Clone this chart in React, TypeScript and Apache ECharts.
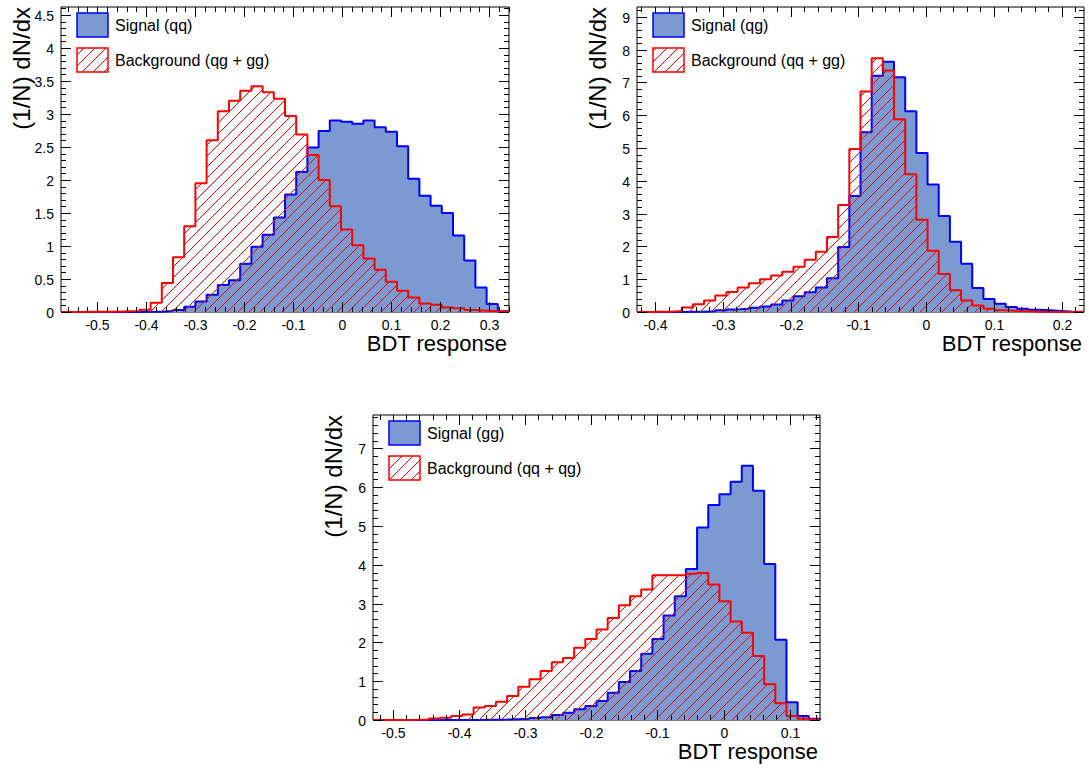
import React, { useEffect, useRef } from "react";
import * as echarts from "echarts";

// ---------------- data ----------------
// Panel 1: Signal (qq) vs Background (qg + gg)
const qqRange = [-0.574, 0.3404];
const qqYMax = 4.62;
const qqSignal = [0, 0, 0, 0, 0, 0, 0, 0.003, 0.005, 0.015, 0.03, 0.08, 0.16, 0.26, 0.41, 0.48, 0.73, 0.99, 1.17, 1.43, 1.78, 2.12, 2.49, 2.74, 2.9, 2.88, 2.85, 2.9, 2.8, 2.73, 2.51, 2.02, 1.76, 1.61, 1.5, 1.16, 0.78, 0.37, 0.12, 0.01];
const qqBackground = [0, 0, 0.003, 0.003, 0.005, 0.01, 0.015, 0.035, 0.14, 0.44, 0.83, 1.3, 1.95, 2.6, 3.04, 3.2, 3.35, 3.42, 3.33, 3.23, 2.97, 2.69, 2.38, 2.0, 1.6, 1.25, 1.01, 0.81, 0.64, 0.46, 0.32, 0.22, 0.13, 0.11, 0.07, 0.055, 0.03, 0.02, 0.01, 0.005];
const qqXTicks = ["-0.5", "-0.4", "-0.3", "-0.2", "-0.1", "0", "0.1", "0.2", "0.3"];
const qqYTicks = ["0", "0.5", "1", "1.5", "2", "2.5", "3", "3.5", "4", "4.5"];

// Panel 2: Signal (qg) vs Background (qq + gg)
const qgRange = [-0.4265, 0.2328];
const qgYMax = 9.3;
const qgSignal = [0, 0, 0, 0, 0.005, 0.01, 0.02, 0.05, 0.08, 0.1, 0.13, 0.17, 0.23, 0.35, 0.48, 0.6, 0.75, 1.03, 1.98, 3.54, 5.48, 7.2, 7.63, 7.16, 6.12, 4.85, 3.89, 2.93, 2.14, 1.47, 0.73, 0.4, 0.25, 0.15, 0.1, 0.07, 0.05, 0.03, 0.01, 0.01];
const qgBackground = [0, 0.005, 0.01, 0.03, 0.14, 0.24, 0.35, 0.5, 0.61, 0.75, 0.88, 1.0, 1.11, 1.23, 1.38, 1.59, 1.84, 2.29, 3.26, 4.97, 6.72, 7.74, 7.36, 5.88, 4.2, 2.81, 1.87, 1.16, 0.66, 0.35, 0.2, 0.1, 0.05, 0.03, 0.02, 0.01, 0.005, 0.003, 0, 0];
const qgXTicks = ["-0.4", "-0.3", "-0.2", "-0.1", "0", "0.1", "0.2"];
const qgYTicks = ["0", "1", "2", "3", "4", "5", "6", "7", "8", "9"];

// Panel 3: Signal (gg) vs Background (qq + qg)
const ggRange = [-0.5303, 0.1459];
const ggYMax = 7.86;
const ggSignal = [0, 0, 0, 0, 0, 0, 0, 0, 0.003, 0.005, 0.008, 0.01, 0.02, 0.03, 0.05, 0.07, 0.13, 0.19, 0.28, 0.36, 0.49, 0.7, 0.98, 1.26, 1.71, 2.09, 2.69, 3.19, 3.89, 4.96, 5.54, 5.82, 6.14, 6.55, 5.91, 4.02, 2.07, 0.46, 0.1, 0.03];
const ggBackground = [0, 0, 0.003, 0.005, 0.01, 0.04, 0.06, 0.1, 0.14, 0.32, 0.36, 0.47, 0.62, 0.86, 1.05, 1.26, 1.49, 1.6, 1.86, 2.09, 2.33, 2.63, 2.96, 3.19, 3.36, 3.73, 3.73, 3.73, 3.77, 3.79, 3.49, 3.06, 2.54, 2.25, 1.65, 0.92, 0.43, 0.1, 0.03, 0.01];
const ggXTicks = ["-0.5", "-0.4", "-0.3", "-0.2", "-0.1", "0", "0.1"];
const ggYTicks = ["0", "1", "2", "3", "4", "5", "6", "7"];

const xTitle = "BDT response";
const yTitle = "(1/N) dN/dx";

// ---------------- layout / style ----------------
const FONT = '"Liberation Sans", Arial, Helvetica, sans-serif';
const BLUE_LINE = "#0000ff";
const BLUE_FILL = "#7a9ad1";
const RED_LINE = "#ff0000";

type Panel = {
  grid: { left: number; top: number; width: number; height: number };
  range: number[];
  yMax: number;
  signal: number[];
  background: number[];
  xTicks: string[];
  yTicks: string[];
  xMinor: number;
  yMinor: number;
  signalLabel: string;
  backgroundLabel: string;
};

const panels: Panel[] = [
  {
    grid: { left: 61, top: 7, width: 448, height: 305 },
    range: qqRange, yMax: qqYMax, signal: qqSignal, background: qqBackground,
    xTicks: qqXTicks, yTicks: qqYTicks, xMinor: 0.02, yMinor: 0.1,
    signalLabel: "Signal (qq)", backgroundLabel: "Background (qg + gg)",
  },
  {
    grid: { left: 637, top: 7, width: 447, height: 305 },
    range: qgRange, yMax: qgYMax, signal: qgSignal, background: qgBackground,
    xTicks: qgXTicks, yTicks: qgYTicks, xMinor: 0.02, yMinor: 0.2,
    signalLabel: "Signal (qg)", backgroundLabel: "Background (qq + gg)",
  },
  {
    grid: { left: 373, top: 415, width: 447, height: 305 },
    range: ggRange, yMax: ggYMax, signal: ggSignal, background: ggBackground,
    xTicks: ggXTicks, yTicks: ggYTicks, xMinor: 0.02, yMinor: 0.2,
    signalLabel: "Signal (gg)", backgroundLabel: "Background (qq + qg)",
  },
];

function histOutline(lo: number, hi: number, vals: number[]) {
  const w = (hi - lo) / vals.length;
  const pts: number[][] = [[lo, 0]];
  vals.forEach((v, i) => {
    pts.push([lo + i * w, v]);
    pts.push([lo + (i + 1) * w, v]);
  });
  pts.push([hi, 0]);
  return pts;
}

function isMultiple(v: number, step: number) {
  const r = v / step;
  return Math.abs(r - Math.round(r)) < 1e-6;
}

function tickItems(p: Panel) {
  const items: number[][] = [];
  const xMajors = p.xTicks.map(Number);
  const yMajors = p.yTicks.map(Number);
  const xMajorStep = xMajors[1] - xMajors[0];
  const yMajorStep = yMajors[1] - yMajors[0];
  xMajors.forEach((v, i) => items.push([v, 0, i]));
  for (let k = Math.ceil(p.range[0] / p.xMinor); k * p.xMinor <= p.range[1]; k++) {
    const v = k * p.xMinor;
    if (!isMultiple(v, xMajorStep)) items.push([v, 1, -1]);
  }
  yMajors.forEach((v, i) => items.push([v, 2, i]));
  for (let k = 1; k * p.yMinor < p.yMax; k++) {
    const v = k * p.yMinor;
    if (!isMultiple(v, yMajorStep)) items.push([v, 3, -1]);
  }
  return items;
}

function makeHatch() {
  const s = 11;
  const c = document.createElement("canvas");
  c.width = s;
  c.height = s;
  const ctx = c.getContext("2d")!;
  ctx.strokeStyle = RED_LINE;
  ctx.lineWidth = 1;
  ctx.beginPath();
  ctx.moveTo(-1, s + 1);
  ctx.lineTo(s + 1, -1);
  ctx.moveTo(-2, 2);
  ctx.lineTo(2, -2);
  ctx.moveTo(s - 2, s + 2);
  ctx.lineTo(s + 2, s - 2);
  ctx.stroke();
  return { image: c, repeat: "repeat", imageWidth: s, imageHeight: s } as any;
}

export default function App() {
  const ref = useRef<HTMLDivElement>(null);

  useEffect(() => {
    document.body.style.margin = "0";
    if (!ref.current) return;
    const chart = echarts.init(ref.current, null, { renderer: "svg" });
    const hatch = makeHatch();

    const grids: any[] = [];
    const xAxes: any[] = [];
    const yAxes: any[] = [];
    const series: any[] = [];
    const graphics: any[] = [];

    panels.forEach((p, k) => {
      const g = p.grid;
      grids.push({
        left: g.left, top: g.top, width: g.width, height: g.height,
        show: true, borderColor: "#000", borderWidth: 1, backgroundColor: "#fff",
        containLabel: false,
      });
      xAxes.push({
        type: "value", gridIndex: k, min: p.range[0], max: p.range[1], show: false,
        splitLine: { show: false },
      });
      yAxes.push({
        type: "value", gridIndex: k, min: 0, max: p.yMax, show: false,
        splitLine: { show: false },
      });

      series.push({
        type: "line", xAxisIndex: k, yAxisIndex: k, silent: true, z: 2,
        data: histOutline(p.range[0], p.range[1], p.signal),
        symbol: "none", showSymbol: false,
        lineStyle: { color: BLUE_LINE, width: 2 },
        areaStyle: { color: BLUE_FILL, opacity: 1 },
      });
      series.push({
        type: "line", xAxisIndex: k, yAxisIndex: k, silent: true, z: 3,
        data: histOutline(p.range[0], p.range[1], p.background),
        symbol: "none", showSymbol: false,
        lineStyle: { color: RED_LINE, width: 2 },
        areaStyle: { color: hatch, opacity: 1 },
      });

      const xLabels = p.xTicks;
      const yLabels = p.yTicks;
      series.push({
        type: "custom", xAxisIndex: k, yAxisIndex: k, silent: true, z: 10, clip: false,
        data: tickItems(p),
        renderItem: (params: any, api: any) => {
          const cs = params.coordSys;
          const L = cs.x, T = cs.y, R = cs.x + cs.width, B = cs.y + cs.height;
          const v = api.value(0);
          const kind = api.value(1);
          const li = api.value(2);
          const st = { stroke: "#000", lineWidth: 1 };
          const children: any[] = [];
          if (kind <= 1) {
            const px = Math.round(api.coord([v, 0])[0]) + 0.5;
            const len = kind === 0 ? 10 : 5;
            children.push({ type: "line", shape: { x1: px, y1: B, x2: px, y2: B - len }, style: st });
            children.push({ type: "line", shape: { x1: px, y1: T, x2: px, y2: T + len }, style: st });
            if (kind === 0) {
              children.push({
                type: "text", x: px, y: B + 12.5,
                style: { text: xLabels[li], align: "center", verticalAlign: "middle", fontSize: 14, fontFamily: FONT, fill: "#000" },
              });
            }
          } else {
            const py = Math.round(api.coord([p.range[0], v])[1]) + 0.5;
            const len = kind === 2 ? 10 : 5;
            children.push({ type: "line", shape: { x1: L, y1: py, x2: L + len, y2: py }, style: st });
            children.push({ type: "line", shape: { x1: R, y1: py, x2: R - len, y2: py }, style: st });
            if (kind === 2) {
              children.push({
                type: "text", x: L - 7, y: py,
                style: { text: yLabels[li], align: "right", verticalAlign: "middle", fontSize: 14, fontFamily: FONT, fill: "#000" },
              });
            }
          }
          return { type: "group", children };
        },
      });

      // legend
      graphics.push({
        type: "rect", z: 20,
        shape: { x: g.left + 16, y: g.top + 6, width: 31, height: 24 },
        style: { fill: BLUE_FILL, stroke: BLUE_LINE, lineWidth: 1.5 },
      });
      graphics.push({
        type: "rect", z: 20,
        shape: { x: g.left + 16, y: g.top + 41, width: 31, height: 24 },
        style: { fill: hatch, stroke: RED_LINE, lineWidth: 1.5 },
      });
      graphics.push({
        type: "text", z: 20, x: g.left + 54, y: g.top + 18,
        style: { text: p.signalLabel, fontSize: 16, fontFamily: FONT, fill: "#000", verticalAlign: "middle", align: "left" },
      });
      graphics.push({
        type: "text", z: 20, x: g.left + 54, y: g.top + 53,
        style: { text: p.backgroundLabel, fontSize: 16, fontFamily: FONT, fill: "#000", verticalAlign: "middle", align: "left" },
      });
      // axis titles
      graphics.push({
        type: "text", z: 20, x: g.left + g.width - 2, y: g.top + g.height + 31,
        style: { text: xTitle, fontSize: 22, fontFamily: FONT, fill: "#000", align: "right", verticalAlign: "middle" },
      });
      graphics.push({
        type: "text", z: 20, x: g.left - 40, y: g.top, rotation: Math.PI / 2,
        style: { text: yTitle, fontSize: 24, fontFamily: FONT, fill: "#000", align: "right", verticalAlign: "middle" },
      });
    });

    chart.setOption({
      animation: false,
      backgroundColor: "#fff",
      textStyle: { fontFamily: FONT },
      grid: grids,
      xAxis: xAxes,
      yAxis: yAxes,
      series,
      graphic: { elements: graphics },
    });

    return () => chart.dispose();
  }, []);

  return (
    <div
      ref={ref}
      style={{ position: "fixed", left: 0, top: 0, width: 1089, height: 768, background: "#fff" }}
    />
  );
}
